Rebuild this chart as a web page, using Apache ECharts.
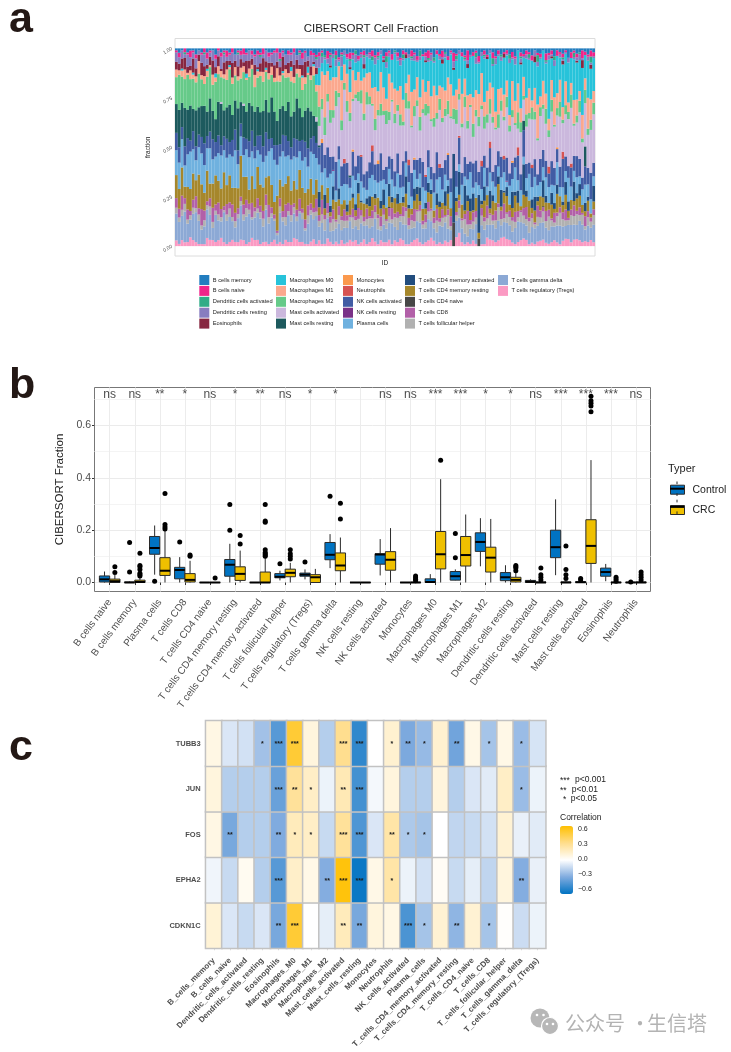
<!DOCTYPE html>
<html><head><meta charset="utf-8">
<style>html,body{margin:0;padding:0;background:#fff}#c{width:731px;height:1052px}</style>
<script src="https://cdn.jsdelivr.net/npm/echarts@6/dist/echarts.min.js"></script>
</head><body><div id="c"></div>
<script>
// ---------- Panel a: per-sample percentages (bottom to top)
const tregs=[3,1,3,2,2,4,3,2,1,1,1,4,3,3,2,3,4,2,1,2,3,2,2,3,3,1,2,4,3,3,1,2,2,1,2,3,1,2,1,3,2,2,4,3,2,2,1,1,2,3,1,3,1,1,3,2,1,2,1,3,1,2,3,2,3,1,2,3,1,2,4,2,1,3,2,2,3,1,3,2,4,3,1,1,2,3,4,2,1,2,3,4,3,1,2,1,3,2,3,0,5,7,2,1,2,1,3,1,0,1,1,4,4,3,2,3,4,5,4,3,2,1,2,3,4,3,1,2,1,2,3,3,2,1,2,3,2,1,3,4,3,2,3,4,3,2,3,2,3,2];
const gammaDelta=[14,10,12,16,9,8,13,15,11,7,9,14,12,6,13,10,8,15,11,12,9,7,12,16,10,13,14,9,11,13,12,8,15,10,12,9,4,14,11,7,13,10,12,8,14,11,6,10,12,9,13,7,10,6,8,5,7,6,9,5,7,8,9,6,7,8,10,6,9,7,6,10,8,5,9,7,8,11,7,6,9,8,10,8,7,6,9,10,8,7,11,8,7,6,9,8,10,7,5,0,9,8,7,6,3,7,6,9,0,10,7,6,9,8,7,10,6,8,9,7,6,8,10,9,8,7,6,9,8,7,10,8,9,6,8,7,9,10,8,7,6,9,7,8,10,9,7,8,6,9];
const follicular=[3,2,3,4,2,2,3,2,3,2,3,2,4,3,2,3,2,1,3,4,2,3,2,2,3,4,2,1,3,2,3,4,2,3,2,1,1,3,2,4,2,3,3,2,1,3,1,4,2,3,2,3,4,5,2,4,6,3,4,5,3,4,2,5,3,6,4,2,3,5,4,3,6,2,5,4,3,2,5,6,3,4,7,2,4,3,5,6,2,3,4,5,3,6,2,4,3,7,2,0,3,5,4,8,6,2,4,3,0,5,4,3,6,2,4,7,3,2,5,4,6,3,2,5,4,3,6,5,2,4,3,5,4,6,3,2,5,7,4,3,2,5,4,6,3,5,2,4,3,5];
const cd8=[5,4,7,3,5,2,4,6,3,8,5,2,4,7,3,6,4,2,5,3,6,4,3,2,5,4,3,7,2,5,3,4,5,6,3,2,1,4,3,6,4,5,2,3,6,2,4,5,3,2,6,3,7,2,4,3,5,1,4,2,5,3,1,4,2,6,3,2,5,1,4,3,2,5,3,1,4,6,2,3,1,5,2,4,3,6,1,3,2,4,5,1,3,6,2,4,1,3,5,0,2,4,1,3,7,2,5,3,0,4,2,6,1,3,5,2,4,8,1,3,2,5,3,1,4,6,2,3,1,5,4,2,6,3,1,5,2,3,4,6,1,3,5,2,4,1,6,3,2,3];
const cd4Rest=[12,9,14,6,11,10,13,8,16,12,9,15,7,12,14,11,10,17,9,13,8,12,10,19,14,11,7,13,9,15,10,12,8,14,11,6,16,9,12,10,13,7,11,9,14,10,12,8,11,6,9,4,7,3,6,2,5,8,3,6,4,2,7,5,3,8,4,6,2,5,7,3,9,4,2,6,5,3,8,4,6,2,7,5,3,4,8,2,6,3,5,7,4,2,6,3,5,8,4,0,6,3,7,2,5,4,1,6,3,2,8,5,3,7,4,10,2,6,9,3,5,8,4,2,7,5,9,3,6,2,8,4,5,3,7,2,10,6,4,8,3,5,2,7,6,4,3,5,2,4];
const cd4Act=[0,0,0,0,0,0,0,0,0,0,0,0,0,0,0,0,0,0,0,0,0,0,0,0,0,0,0,0,0,0,0,0,0,0,0,0,0,0,0,0,0,0,0,0,0,0,0,0,0,0,0,8,0,6,0,3,7,0,5,0,0,4,0,2,3,6,1,0,3,5,0,2,0,4,8,0,6,3,0,5,0,3,9,2,0,6,4,7,0,3,5,2,0,6,3,0,8,4,0,32,2,12,0,14,3,6,9,0,20,2,7,0,11,3,0,4,8,1,5,0,9,2,6,0,16,3,0,5,7,2,0,8,4,0,6,3,5,0,2,7,4,0,9,3,6,0,5,2,0,8];
const plasma=[13,12,14,11,16,17,12,10,13,15,14,11,17,12,9,14,16,11,13,10,15,18,12,9,11,13,16,12,15,8,14,13,10,12,18,20,14,11,17,13,10,15,12,14,9,13,16,11,12,18,10,14,6,12,4,15,8,5,13,9,7,11,6,8,12,5,10,7,4,9,11,6,8,10,5,12,7,9,6,10,8,5,7,12,6,9,4,7,11,6,8,5,10,7,13,6,9,3,8,0,6,4,10,5,8,12,3,7,5,6,9,4,11,7,8,5,6,10,3,9,7,12,5,8,4,6,14,7,10,5,8,6,11,7,4,9,12,5,8,6,10,7,5,9,4,8,11,6,7,5];
const nkAct=[9,7,6,10,8,5,9,7,6,8,11,6,8,10,7,9,5,7,9,6,8,10,7,6,9,5,8,10,6,7,9,8,11,6,5,7,9,6,8,10,7,6,9,8,5,10,7,9,6,8,7,9,14,6,12,8,7,13,6,10,9,12,5,11,7,10,13,6,9,8,12,7,10,14,5,9,6,11,8,10,7,13,6,9,12,5,10,8,13,7,9,6,11,14,5,10,8,13,7,0,9,14,6,11,8,5,13,10,7,12,6,9,15,5,11,8,10,7,13,6,9,5,12,8,14,7,6,11,9,5,13,8,10,6,12,9,7,11,16,8,5,10,7,12,9,6,11,8,13,7];
const mastResting=[15,17,12,20,14,16,11,18,13,15,19,12,16,14,11,17,20,13,15,18,12,14,21,10,16,13,19,12,17,14,11,18,15,13,20,16,11,17,14,12,19,15,13,18,16,11,14,20,12,9,10,1,0,0,0,0,0,0,0,0,0,0,1,0,0,0,0,0,0,0,0,0,0,0,0,0,0,0,0,0,0,0,0,0,0,0,0,0,0,0,0,0,0,0,0,0,0,0,0,0,0,0,0,0,0,0,0,0,0,0,0,0,0,0,0,0,0,0,0,0,0,0,0,0,5,0,0,0,0,0,0,0,0,0,0,0,0,0,0,0,0,0,0,0,0,0,12,0,0,0];
const mastActivated=[0,0,0,0,0,0,0,0,0,0,0,0,0,0,0,0,1,0,0,0,0,0,0,0,1,0,0,0,0,0,0,0,0,0,0,0,0,0,0,0,0,0,0,0,0,0,0,0,0,0,2,10,14,9,18,16,20,25,22,18,30,28,26,22,34,30,27,24,32,29,20,15,24,19,28,22,17,30,25,21,26,18,22,27,23,20,28,14,25,30,19,22,26,17,29,21,24,20,30,16,26,19,23,28,18,25,14,20,24,27,13,21,17,25,18,12,22,19,28,20,24,16,9,21,11,18,23,26,20,15,24,19,22,13,25,21,17,27,16,23,20,29,14,19,24,18,26,16,21,25];
const m2=[14,16,13,15,17,12,15,14,16,13,11,17,15,13,18,14,12,16,13,17,15,12,14,11,16,15,13,18,12,14,17,15,13,16,11,14,18,13,15,16,12,17,14,11,15,13,12,16,14,18,12,10,5,8,3,6,4,7,2,5,3,6,4,1,2,5,7,3,6,4,1,5,3,6,2,7,4,1,5,3,6,2,8,4,1,5,3,7,2,6,4,1,5,3,6,2,4,7,1,5,8,3,2,6,4,1,7,3,5,2,6,4,9,3,1,7,5,2,6,3,4,1,8,5,2,6,3,7,4,1,5,2,9,3,6,1,4,8,2,5,3,7,1,4,6,2,8,3,5,6];
const m1=[4,2,3,5,1,4,2,3,6,2,4,3,1,5,2,4,3,2,5,1,3,4,2,5,3,1,4,2,6,3,2,5,1,3,4,2,6,3,1,4,2,5,3,2,4,6,3,1,2,4,3,11,13,19,9,14,17,6,12,20,8,15,10,13,7,11,5,16,9,12,8,14,10,16,12,6,18,9,13,7,15,11,5,14,17,8,12,10,15,6,13,11,18,9,7,14,10,12,16,6,11,8,15,10,13,5,14,9,12,17,7,11,10,15,8,13,6,12,9,5,16,11,14,7,10,8,13,4,12,15,6,11,9,5,10,14,8,12,7,13,4,6,11,9,5,12,7,15,10,6];
const m0=[0,0,1,0,0,0,1,0,0,0,0,1,0,0,2,0,0,0,0,1,0,0,0,0,0,2,0,0,0,1,0,0,1,0,0,0,0,0,1,0,0,2,0,0,0,1,0,3,0,1,5,9,4,7,3,6,10,5,2,7,4,8,11,5,9,6,12,4,8,7,14,10,17,9,13,16,8,12,18,15,11,20,13,9,16,14,8,19,12,15,10,17,13,21,14,11,18,9,15,12,16,13,19,10,14,17,22,12,16,9,21,15,18,11,24,17,13,20,14,25,12,18,16,22,10,19,15,23,13,17,21,14,18,26,11,16,20,12,24,15,17,13,19,21,16,24,14,18,15,17];
const eosinophils=[4,3,5,6,3,2,7,4,3,6,5,2,4,7,3,5,1,6,4,2,7,3,5,4,2,6,4,3,5,1,4,7,3,5,2,6,3,4,7,2,5,3,6,4,2,5,7,3,4,1,3,0,0,0,0,1,0,0,0,0,0,0,1,0,0,0,0,2,0,0,0,0,0,0,1,0,0,0,0,0,0,0,2,0,0,0,0,0,0,1,0,0,0,0,0,2,0,0,0,1,0,0,0,0,2,0,0,0,0,0,0,1,0,0,0,0,0,2,0,0,0,0,0,1,0,0,0,0,3,0,0,0,0,0,1,0,0,0,2,0,0,0,0,1,0,4,0,0,2,0];
const dcResting=[5,3,4,2,6,4,3,5,2,4,6,3,2,5,4,3,6,4,2,3,5,3,6,2,4,3,5,2,4,6,3,2,5,3,4,6,4,3,2,5,4,3,6,2,5,3,4,2,5,3,4,6,3,1,2,4,2,3,1,5,2,1,3,2,4,1,2,3,1,2,0,3,1,2,1,3,2,0,1,2,3,1,0,2,1,3,1,2,0,2,1,3,1,0,2,1,2,0,1,3,1,2,0,1,2,1,0,3,1,2,1,0,2,1,3,1,2,0,1,2,1,3,0,2,1,2,1,0,3,2,1,0,1,2,1,3,0,2,1,1,2,0,1,2,3,1,0,2,1,1];
const dcActivated=[0,0,0,1,0,0,0,0,0,0,1,0,0,0,0,0,0,1,0,0,0,0,1,0,0,0,0,0,0,0,1,0,0,0,0,0,0,1,0,0,0,0,0,0,1,0,0,0,0,0,1,0,2,1,0,1,0,2,0,1,0,0,1,0,2,0,0,1,0,0,2,0,1,0,0,3,0,0,1,0,0,2,0,0,1,0,0,3,0,0,1,0,2,0,0,0,1,0,0,0,2,0,0,1,0,0,0,2,0,0,1,0,0,3,0,0,1,0,0,2,0,0,0,1,0,0,2,0,0,3,0,0,1,0,0,2,0,0,1,0,0,0,2,0,1,0,0,0,3,0];
const bNaive=[1,2,0,2,1,3,1,2,0,1,2,3,1,0,2,1,2,1,3,1,2,0,1,2,3,1,0,2,1,2,1,3,0,2,1,1,2,3,1,0,2,1,2,0,1,3,1,0,2,1,1,2,1,0,3,1,0,2,1,1,0,2,3,1,0,2,1,2,0,1,3,1,2,0,1,2,1,3,0,2,1,2,1,0,3,1,2,0,1,2,4,1,0,2,1,3,0,2,1,4,1,0,2,1,5,0,2,1,3,0,2,1,0,3,1,2,0,1,2,0,3,1,0,2,1,2,1,3,0,1,2,0,4,1,2,0,3,1,2,1,0,3,1,2,0,4,2,1,3,2];
const bMemory=[1,2,1,0,2,1,1,3,1,2,0,2,1,1,3,0,2,1,1,2,0,3,1,1,0,2,1,1,3,1,2,0,1,2,2,1,0,2,1,3,1,2,0,3,1,2,1,4,1,2,3,2,1,3,1,2,3,1,4,2,1,3,2,2,1,4,2,1,3,2,1,3,2,1,4,2,1,3,1,2,5,1,2,3,1,2,4,1,3,2,1,2,5,1,3,1,2,4,1,2,3,1,2,4,1,3,2,1,4,2,1,3,1,2,4,1,3,2,1,3,2,4,1,2,3,1,2,4,1,2,3,1,3,2,1,4,1,2,3,1,4,2,1,3,2,1,2,3,1,2];
// rare populations, as [sample, percent] pairs
const cd4Naive=[[99,11],[108,4],[76,0.5],[131,0.5]];
const nkResting=[[56,0.5],[118,0.5]];
const neutrophils=[[60,2],[66,1],[70,3],[83,3],[89,1],[94,2],[101,1],[109,3],[112,4],[117,2],[122,4],[127,2],[133,3],[138,4],[141,2]];
const monocytes=[[52,2],[63,1],[72,2],[85,1],[97,1],[120,1],[136,1]];
const sampleIds=tregs.map((_,i)=>'S'+(i+1));
const fractionTicks=[0,0.25,0.5,0.75,1];
// drawn bottom to top
const stackNames=['T cells regulatory (Tregs)','T cells gamma delta','T cells follicular helper','T cells CD8','T cells CD4 naive','T cells CD4 memory resting','T cells CD4 memory activated','Plasma cells','NK cells resting','NK cells activated','Neutrophils','Monocytes','Mast cells resting','Mast cells activated','Macrophages M2','Macrophages M1','Macrophages M0','Eosinophils','Dendritic cells resting','Dendritic cells activated','B cells naive','B cells memory'];
const stackColors=['#fb8fbc','#7fa0d0','#a8a8a8','#aa4f9f','#333333','#9c7a14','#0a3a70','#5fa8dc','#6a1b7a','#2c4a9a','#d2403f','#fb8e3a','#04484c','#c5b0d9','#55c47c','#fb9f82','#10bcd6','#7a0e2b','#7b6fb8','#1aa37a','#ee0c7d','#0a6fb8'];
const legendCols=[['B cells memory','B cells naive','Dendritic cells activated','Dendritic cells resting','Eosinophils'],['Macrophages M0','Macrophages M1','Macrophages M2','Mast cells activated','Mast cells resting'],['Monocytes','Neutrophils','NK cells activated','NK cells resting','Plasma cells'],['T cells CD4 memory activated','T cells CD4 memory resting','T cells CD4 naive','T cells CD8','T cells follicular helper'],['T cells gamma delta','T cells regulatory (Tregs)']];

// ---------- Panel b: [min,Q1,median,Q3,max]
const boxCats=['B cells naive','B cells memory','Plasma cells','T cells CD8','T cells CD4 naive','T cells CD4 memory resting','T cells CD4 memory activated','T cells follicular helper','T cells regulatory (Tregs)','T cells gamma delta','NK cells resting','NK cells activated','Monocytes','Macrophages M0','Macrophages M1','Macrophages M2','Dendritic cells resting','Dendritic cells activated','Mast cells resting','Mast cells activated','Eosinophils','Neutrophils'];
const signif=['ns','ns','**','*','ns','*','**','ns','*','*','','ns','ns','***','***','*','*','ns','***','***','***','ns'];
const controlBox=[[0,.002,.012,.025,.042],[0,0,0,.002,.004],[.03,.108,.132,.176,.218],[0,.014,.048,.058,.097],[0,0,0,0,0],[0,.024,.068,.088,.148],[0,0,0,0,0],[.008,.018,.022,.034,.045],[.012,.024,.03,.036,.05],[.055,.087,.106,.153,.185],[0,0,0,0,0],[.027,.07,.107,.11,.166],[0,0,0,0,.001],[0,0,.002,.014,.032],[.008,.009,.024,.042,.05],[.062,.119,.155,.19,.246],[0,.007,.02,.038,.066],[0,0,.003,.008,.012],[.028,.095,.135,.2,.318],[0,0,.001,.003,.005],[.005,.024,.04,.055,.071],[0,0,0,.001,.002]];
const crcBox=[[0,0,.005,.013,.03],[0,0,.002,.009,.02],[0,.027,.045,.095,.2],[0,.002,.01,.034,.083],[0,0,0,0,0],[0,.008,.033,.06,.122],[0,0,0,.04,.095],[0,.022,.037,.051,.075],[0,0,.02,.03,.052],[0,.045,.065,.113,.172],[0,0,0,0,0],[0,.047,.087,.118,.208],[0,0,0,.001,.002],[0,.052,.108,.195,.395],[0,.063,.105,.176,.26],[0,.04,.095,.135,.243],[0,.002,.01,.02,.037],[0,0,0,.002,.005],[0,0,0,.002,.005],[0,.073,.14,.24,.468],[0,0,0,.001,.003],[0,0,0,.002,.005]];
const controlOut=[[],[.04,.153],[.005],[.155],[],[.2,.298],[],[.072],[.078],[.33],[],[],[],[],[.095,.187],[],[],[],[],[.01,.015],[],[.002]];
const crcOut=[[.038,.06],[.025,.03,.035,.05,.06,.065,.112],[.205,.212,.222,.34],[.1,.105],[.017],[.147,.18],[.1,.105,.11,.115,.125,.23,.235,.298],[.09,.1,.11,.125],[],[.243,.303],[],[],[.007,.012,.018,.025],[.467],[],[],[.045,.055,.06,.065],[.01,.02,.03,.055],[.015,.03,.05,.14],[.653,.675,.685,.695,.712],[.005,.012,.02],[.01,.02,.03,.04]];
const fractionMajor=[0,0.2,0.4,0.6];
const fractionMinor=[0.1,0.3,0.5,0.7];

// ---------- Panel c
const genes=['CDKN1C','EPHA2','FOS','JUN','TUBB3'];
const cellCols=['B_cells_memory','B_cells_naive','Dendritic_cells_activated','Dendritic_cells_resting','Eosinophils','Macrophages_M0','Macrophages_M1','Macrophages_M2','Mast_cells_activated','Mast_cells_resting','Monocytes','Neutrophils','NK_cells_activated','Plasma_cells','T_cells_CD4_memory_activated','T_cells_CD4_memory_resting','T_cells_CD4_naive','T_cells_CD8','T_cells_follicular_helper','T_cells_gamma_delta','T_cells_regulatory_(Tregs)'];
const corrTUBB3=[.08,-.1,-.12,-.25,-.45,.55,.1,-.2,.33,-.55,0,.14,-.35,-.28,.14,-.38,.07,-.24,.07,-.27,-.11];
const corrJUN=[.1,-.2,-.2,-.2,-.4,.3,.17,-.05,.22,-.5,-.03,.1,-.2,-.2,.1,-.2,-.1,-.08,.17,-.27,-.05];
const corrFOS=[.08,-.36,-.2,-.2,-.34,.2,.17,-.15,.3,-.47,-.1,.26,-.22,-.24,0,-.17,-.15,-.12,.13,-.06,-.08];
const corrEPHA2=[-.04,-.15,.04,-.2,-.45,.16,.07,-.33,.65,-.65,.07,.26,-.05,-.12,.03,-.15,-.07,-.17,.1,-.33,-.06];
const corrCDKN1C=[.12,-.1,-.15,-.1,-.36,.55,0,-.07,.2,-.36,.1,.08,-.48,-.24,.13,-.3,.13,-.24,.01,-.14,-.05];
const starTUBB3=['','','','*','***','***','','','***','***','','*','**','*','','**','','*','','*',''];
const starJUN=['','','','','***','**','*','','**','***','','','','','','','','','','*',''];
const starFOS=['','**','','','**','*','*','','***','***','','**','*','*','','','','','','',''];
const starEPHA2=['','','','','***','','','**','***','***','','*','','','','','','','','**',''];
const starCDKN1C=['','','','','**','***','','','**','**','','','***','*','','**','','*','','',''];
const corrTicks=['0.6','0.3','0.0','−0.3','−0.6'];
const pLegend=[['***','p<0.001'],['**','p<0.01'],['*','p<0.05']];

// ---------- Build
const FONT='"Liberation Sans", Arial, sans-serif';
const expand=(pairs)=>{const a=sampleIds.map(()=>0);pairs.forEach(p=>a[p[0]]=p[1]);return a;};
const stackValues=[tregs,gammaDelta,follicular,cd8,expand(cd4Naive),cd4Rest,cd4Act,plasma,expand(nkResting),nkAct,expand(neutrophils),expand(monocytes),mastResting,mastActivated,m2,m1,m0,eosinophils,dcResting,dcActivated,bNaive,bMemory];
// position="fill": each sample is scaled so that it sums to one
const totals=sampleIds.map((_,i)=>stackValues.reduce((s,a)=>s+(a[i]||0),0));
const series=[];
stackNames.forEach((name,k)=>series.push({type:'bar',name,stack:'a',xAxisIndex:0,yAxisIndex:0,barCategoryGap:'0%',
  itemStyle:{color:stackColors[k],opacity:0.9},data:sampleIds.map((_,i)=>(stackValues[k][i]||0)/totals[i]),animation:false,silent:true}));

function boxRender(fill){return function(params,api){
  const x=api.value(0),w=api.size([0.41,0])[0];
  const p=n=>api.coord([x,api.value(n)]);
  const a=p(1),b=p(2),m=p(3),c=p(4),d=p(5);
  const edge='#2b2b2b';
  return {type:'group',children:[
    {type:'line',shape:{x1:a[0],y1:a[1],x2:a[0],y2:b[1]},style:{stroke:edge,lineWidth:1}},
    {type:'line',shape:{x1:a[0],y1:c[1],x2:a[0],y2:d[1]},style:{stroke:edge,lineWidth:1}},
    {type:'rect',shape:{x:a[0]-w/2,y:c[1],width:w,height:b[1]-c[1]},style:{fill,stroke:edge,lineWidth:1}},
    {type:'line',shape:{x1:a[0]-w/2,y1:m[1],x2:a[0]+w/2,y2:m[1]},style:{stroke:'#000',lineWidth:2}}
  ]};
};}
const OFF=0.2065;
[['Control',controlBox,controlOut,'#0073C2',-OFF],['CRC',crcBox,crcOut,'#EFC000',OFF]].forEach(([name,box,out,col,off])=>{
  series.push({type:'custom',name,xAxisIndex:3,yAxisIndex:3,renderItem:boxRender(col),itemStyle:{color:col},silent:true,animation:false,z:3,
    encode:{x:0,y:[1,2,3,4,5]},data:box.map((b,i)=>[i+1+off,...b])});
  const pts=[];out.forEach((o,i)=>o.forEach(v=>pts.push([i+1+off,v])));
  series.push({type:'scatter',xAxisIndex:3,yAxisIndex:3,symbolSize:5,itemStyle:{color:'#000',opacity:1},data:pts,silent:true,animation:false,z:4});
});
series.push({type:'scatter',xAxisIndex:3,yAxisIndex:3,symbolSize:0,silent:true,animation:false,z:5,
  data:signif.map((s,i)=>({value:[i+1,0.72],label:{show:true,formatter:s,position:'inside',color:'#1a1a1a',fontSize:12,fontFamily:FONT}}))});

const heat=[],rowVals=[corrCDKN1C,corrEPHA2,corrFOS,corrJUN,corrTUBB3],rowStars=[starCDKN1C,starEPHA2,starFOS,starJUN,starTUBB3];
genes.forEach((g,r)=>cellCols.forEach((c,x)=>heat.push({value:[x,r,rowVals[r][x]],star:rowStars[r][x]})));
series.push({type:'heatmap',xAxisIndex:4,yAxisIndex:4,data:heat,silent:true,animation:false,
  itemStyle:{borderColor:'#c2c2c2',borderWidth:1.5},
  label:{show:true,formatter:p=>p.data.star,fontSize:7,fontWeight:'bold',color:'#1a1a1a',offset:[0,1],fontFamily:FONT}});

const legends=legendCols.map((d,i)=>({data:d,orient:'vertical',left:[199.3,276,343,405,498][i],top:275,padding:0,itemWidth:10,itemHeight:10,itemGap:0.9,
  icon:'rect',selectedMode:false,textStyle:{fontSize:5.7,color:'#222',fontFamily:FONT,padding:[0,0,0,-1.5]},itemStyle:{borderWidth:0}}));
legends.push({data:['Control','CRC'],orient:'vertical',left:670,top:484.2,padding:0,itemWidth:14,itemHeight:9,itemGap:9.3,icon:'rect',selectedMode:false,
  textStyle:{fontSize:10.5,color:'#222',fontFamily:FONT,padding:[0,0,0,3]},itemStyle:{borderColor:'#2b2b2b',borderWidth:1}});

const txt=(text,x,y,o={})=>({type:'text',x,y,silent:true,z:20,style:Object.assign({text,fill:'#222',fontSize:8.5,fontFamily:FONT,align:'left',textAlign:'left',verticalAlign:'middle',textVerticalAlign:'middle'},o)});
const ln=(x1,y1,x2,y2,w,c)=>({type:'line',silent:true,z:20,shape:{x1,y1,x2,y2},style:{stroke:c||'#2b2b2b',lineWidth:w||1}});
const letter={fontSize:43,fontWeight:'bold',fill:'#231815'};
const CJK='"Noto Sans CJK SC", sans-serif';
const graphic=[
  txt('a',9,20,letter),txt('b',9,386,letter),txt('c',9,748,letter),
  txt('Typer',668,469,{fontSize:11}),
  ln(670,488.7,684,488.7,2,'#000'),ln(670,506.9,684,506.9,2,'#000'),
  ln(677,481.5,677,484.2),ln(677,493.2,677,496),ln(677,499.7,677,502.4),ln(677,511.4,677,514.2),
  txt('Correlation',560,817.7),
  ...pLegend.map((p,i)=>txt(p[0],[560,560,563][i],[781,790.6,800][i])),
  ...pLegend.map((p,i)=>txt(p[1],[575,571.7,570.7][i],[780,789.7,799][i])),
  ...corrTicks.map((t,i)=>txt(t,578,829+15*i,{fontSize:7,fill:'#222'})),
  {type:'circle',silent:true,z:20,shape:{cx:540,cy:1018,r:9.5},style:{fill:'#b7b7b7'}},
  {type:'circle',silent:true,z:21,shape:{cx:550,cy:1026,r:8.5},style:{fill:'#b7b7b7',stroke:'#fff',lineWidth:1.2}},
  ...[[537,1015],[543.5,1015],[547,1024],[553,1024]].map(([cx,cy])=>({type:'circle',silent:true,z:22,shape:{cx,cy,r:1.3},style:{fill:'#fff'}})),
  txt('公众号',565,1023,{fontSize:20,fill:'#b3b3b3',fontFamily:CJK}),
  txt('·',630,1023,{fontSize:20,fill:'#b3b3b3',fontFamily:CJK}),
  txt('生信塔',647,1023,{fontSize:20,fill:'#b3b3b3',fontFamily:CJK})
];

const grey='#4d4d4d';
const option={
  backgroundColor:'#fff',animation:false,
  textStyle:{fontFamily:FONT},
  title:{text:'CIBERSORT Cell Fraction',left:371,top:23,textAlign:'center',padding:0,textStyle:{fontSize:11.5,fontWeight:'normal',color:'#222',fontFamily:FONT}},
  grid:[
    {left:175,top:38.5,width:420,height:217.5,show:true,borderColor:'#dcdcdc',borderWidth:1,backgroundColor:'#fff'},
    {left:94.5,top:387.5,width:556,height:204,show:true,borderColor:'#777',borderWidth:1,backgroundColor:'#fff'},
    {left:97.17,top:387.5,width:551.3,height:204},
    {left:205.7,top:720.7,width:340,height:227.6}
  ],
  xAxis:[
    {type:'category',gridIndex:0,data:sampleIds,axisLine:{show:false},axisTick:{show:false},axisLabel:{show:false},name:'ID',nameLocation:'middle',nameGap:4,nameTextStyle:{fontSize:6.5,color:'#222',fontFamily:FONT}},
    {type:'value',gridIndex:1,show:false,min:0,max:1},
    {type:'category',gridIndex:2,data:boxCats,axisLine:{show:false},axisTick:{show:true,alignWithLabel:true,length:2.5,lineStyle:{color:'#333'}},
      axisLabel:{interval:0,rotate:53,fontSize:10,color:grey,margin:9,fontFamily:FONT,hideOverlap:false}},
    {type:'value',gridIndex:2,min:0.5,max:22.5,position:'bottom',axisLine:{show:false},axisLabel:{show:false},
      axisTick:{show:false,customValues:boxCats.map((_,i)=>i+1)},splitLine:{show:true,lineStyle:{color:'#ececec',width:1}}},
    {type:'category',gridIndex:3,data:cellCols,axisLine:{show:false},axisTick:{show:true,alignWithLabel:true,length:2,lineStyle:{color:'#dcdcdc'}},
      axisLabel:{interval:0,rotate:45,fontSize:8,fontWeight:'bold',color:grey,margin:11,fontFamily:FONT,hideOverlap:false}}
  ],
  yAxis:[
    {type:'value',gridIndex:0,min:-0.05,max:1.05,axisLine:{show:false},axisTick:{show:false,customValues:fractionTicks},splitLine:{show:false},
      axisLabel:{customValues:fractionTicks,rotate:30,fontSize:5,color:grey,margin:3,formatter:v=>v.toFixed(2),fontFamily:FONT},
      name:'fraction',nameLocation:'middle',nameGap:11,nameTextStyle:{fontSize:6.5,color:'#222',fontFamily:FONT}},
    {type:'value',gridIndex:1,min:-0.0344,max:0.7456,axisLine:{show:false},
      axisTick:{show:true,length:2.5,customValues:fractionMajor,lineStyle:{color:'#333'}},
      axisLabel:{customValues:fractionMajor,fontSize:10.5,color:grey,margin:3.5,formatter:v=>v.toFixed(1),fontFamily:FONT},
      splitLine:{show:true,lineStyle:{color:'#ebebeb',width:1}},
      name:'CIBERSORT Fraction',nameLocation:'middle',nameGap:15,nameTextStyle:{fontSize:11.5,color:'#222',fontFamily:FONT}},
    {type:'value',gridIndex:1,min:-0.0344,max:0.7456,axisLine:{show:false},axisLabel:{show:false},
      axisTick:{show:false,customValues:fractionMinor},splitLine:{show:true,lineStyle:{color:'#f4f4f4',width:1}}},
    {type:'value',gridIndex:2,min:-0.0344,max:0.7456,show:false},
    {type:'category',gridIndex:3,data:genes,axisLine:{show:false},axisTick:{show:false},
      axisLabel:{fontSize:7.5,fontWeight:'bold',color:grey,margin:5,fontFamily:FONT}}
  ],
  visualMap:{type:'continuous',seriesIndex:series.length-1,dimension:2,min:-0.68,max:0.68,calculable:false,realtime:false,left:560,top:826,itemWidth:13,itemHeight:68,padding:0,
    text:null,inRange:{color:['#0073C2','#80abdf','#ffffff','#ffdd8c','#FFC000']},hoverLink:false},
  legend:legends,
  graphic:{elements:graphic},
  series
};
const chart=echarts.init(document.getElementById('c'),null,{width:731,height:1052,renderer:'canvas'});
chart.setOption(option);
</script></body></html>
